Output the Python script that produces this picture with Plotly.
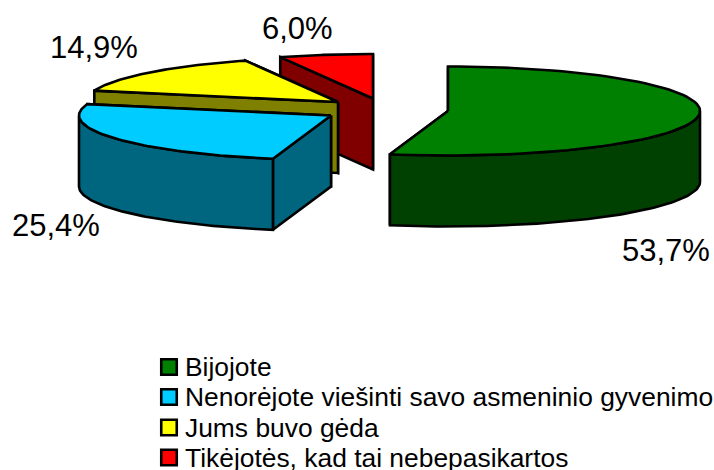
import numpy as np
import plotly.graph_objects as go

categories = ["Bijojote", "Nenorėjote viešinti savo asmeninio gyvenimo", "Jums buvo gėda", "Tikėjotės, kad tai nebepasikartos"]
values = [53.7, 25.4, 14.9, 6.0]
top_colors = ["#008000", "#00CCFF", "#FFFF00", "#FF0000"]
side_colors = ["#004000", "#006680", "#808000", "#800000"]
apexes = [(448, 111), (331, 115.5), (338, 102), (373, 98.5)]
label_pos = [(665.5, 250), (56, 225), (94, 47), (297.5, 28)]
legend_rows = [367, 397, 427.5, 457.5]

A, B, DEPTH = 252, 44.5, 71
LW = 2.6


def rim(apex, a0, a1, n=80):
    t = np.radians(np.linspace(a0, a1, n))
    return apex[0] + A * np.sin(t), apex[1] - B * np.cos(t)


def poly(fig, xs, ys, color):
    fig.add_trace(go.Scatter(x=list(xs), y=list(ys), mode="lines", fill="toself", fillcolor=color,
                             line=dict(color="black", width=LW), showlegend=False, hoverinfo="skip"))


def cut_face(fig, apex, angle, color):
    x, y = rim(apex, angle, angle, 1)
    xs = [apex[0], x[0], x[0], apex[0], apex[0]]
    ys = [apex[1], y[0], y[0] + DEPTH, apex[1] + DEPTH, apex[1]]
    poly(fig, xs, ys, color)


fig = go.Figure()
fracs = np.cumsum([0] + values) / sum(values) * 360
# paint back to front
for i in [3, 2, 1, 0]:
    a0, a1 = fracs[i], fracs[i + 1]
    cut_face(fig, apexes[i], a1, side_colors[i])
    cut_face(fig, apexes[i], a0, side_colors[i])
    w0, w1 = max(a0, 90), min(a1, 270)
    if w1 > w0:
        x, y = rim(apexes[i], w0, w1)
        poly(fig, np.r_[x, x[::-1], x[0]], np.r_[y, y[::-1] + DEPTH, y[0]], side_colors[i])
    x, y = rim(apexes[i], a0, a1)
    poly(fig, np.r_[apexes[i][0], x, apexes[i][0]], np.r_[apexes[i][1], y, apexes[i][1]], top_colors[i])

fig.add_trace(go.Scatter(x=[169] * 4, y=legend_rows, mode="markers", showlegend=False, hoverinfo="skip",
                         marker=dict(symbol="square", size=15.5, color=top_colors, line=dict(color="black", width=2.6))))

for name, ry in zip(categories, legend_rows):
    fig.add_annotation(x=183, y=ry, text=name, showarrow=False, xanchor="left",
                       font=dict(family="Liberation Sans", size=26.4, color="black"))

for v, (lx, ly) in zip(values, label_pos):
    fig.add_annotation(x=lx, y=ly, text=f"{v:.1f}%".replace(".", ","), showarrow=False,
                       font=dict(family="Liberation Sans", size=31, color="black"))

fig.update_layout(
    width=714, height=470, margin=dict(l=0, r=0, t=0, b=0, autoexpand=False),
    paper_bgcolor="white", plot_bgcolor="white", showlegend=False,
    xaxis=dict(range=[0, 714], visible=False, fixedrange=True),
    yaxis=dict(range=[470, 0], visible=False, fixedrange=True),
)
fig.write_html("out.html", config=dict(displayModeBar=False),
               post_script="document.body.style.margin='0';document.body.style.overflow='hidden';")
